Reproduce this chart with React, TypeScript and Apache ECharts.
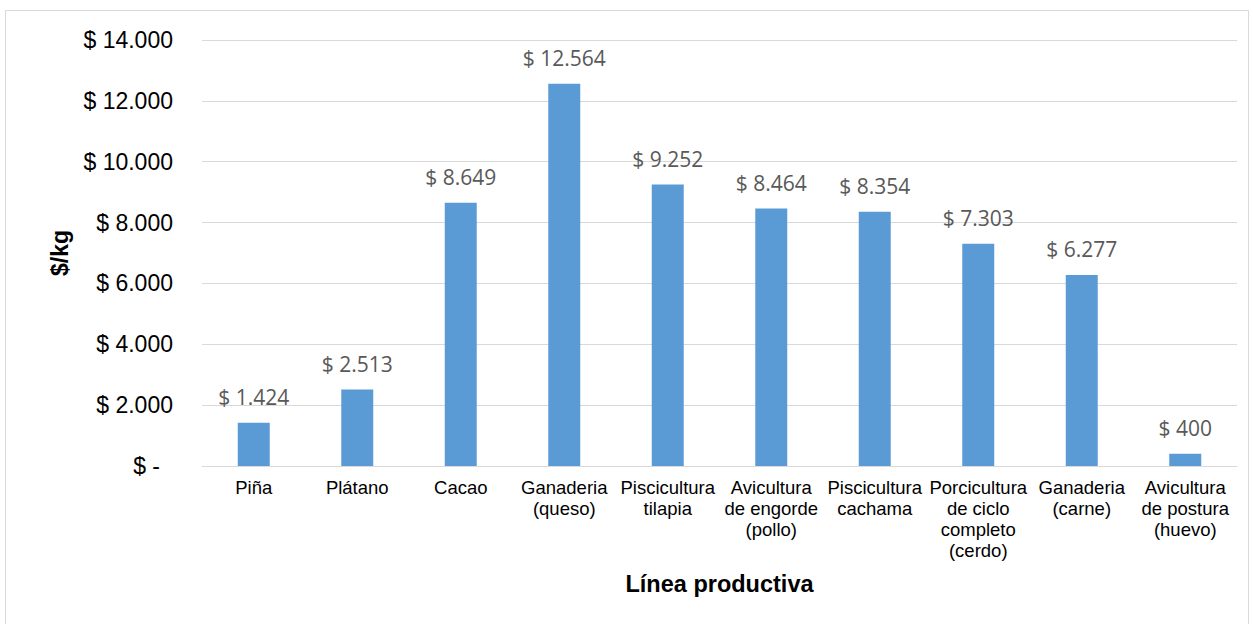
import React, { useEffect, useRef } from "react";
import * as echarts from "echarts";

const categories = [
  "Piña",
  "Plátano",
  "Cacao",
  "Ganaderia\n(queso)",
  "Piscicultura\ntilapia",
  "Avicultura\nde engorde\n(pollo)",
  "Piscicultura\ncachama",
  "Porcicultura\nde ciclo\ncompleto\n(cerdo)",
  "Ganaderia\n(carne)",
  "Avicultura\nde postura\n(huevo)",
];
const values = [1424, 2513, 8649, 12564, 9252, 8464, 8354, 7303, 6277, 400];

const fmt = (v: number) => {
  if (v === 0) return "{z|$ -}";
  return "$ " + Math.round(v).toString().replace(/\B(?=(\d{3})+(?!\d))/g, ".");
};

export default function App() {
  const ref = useRef<HTMLDivElement>(null);
  useEffect(() => {
    if (!ref.current) return;
    const chart = echarts.init(ref.current, undefined, { renderer: "svg" });
    chart.setOption({
      animation: false,
      backgroundColor: "#ffffff",
      graphic: [
        {
          type: "rect",
          shape: { x: 5.5, y: 10.5, width: 1243, height: 625 },
          style: { fill: "none", stroke: "#d9d9d9", lineWidth: 1 },
          silent: true,
        },
      ],
      grid: { left: 202, right: 16, top: 40, bottom: 158, containLabel: false },
      xAxis: {
        type: "category",
        data: categories,
        axisLine: { show: true, lineStyle: { color: "#d9d9d9", width: 1 } },
        axisTick: { show: false },
        axisLabel: {
          interval: 0,
          color: "#000",
          fontFamily: "Liberation Sans, Arial, sans-serif",
          fontSize: 18.5,
          lineHeight: 21,
          margin: 11,
        },
        name: "Línea productiva",
        nameLocation: "middle",
        nameGap: 106,
        nameTextStyle: {
          color: "#000",
          fontFamily: "Liberation Sans, Arial, sans-serif",
          fontSize: 23.5,
          fontWeight: "bold",
          verticalAlign: "top",
        },
      },
      yAxis: {
        type: "value",
        min: 0,
        max: 14000,
        interval: 2000,
        axisLine: { show: false },
        axisTick: { show: false },
        splitLine: { lineStyle: { color: "#d9d9d9", width: 1 } },
        axisLabel: {
          formatter: fmt,
          color: "#000",
          fontFamily: "Liberation Sans, Arial, sans-serif",
          fontSize: 23,
          margin: 29,
          rich: {
            z: {
              color: "#000",
              fontFamily: "Liberation Sans, Arial, sans-serif",
              fontSize: 23,
              padding: [0, 13, 0, 0],
            },
          },
        },
        name: "$/kg",
        nameLocation: "middle",
        nameGap: 142,
        nameRotate: 90,
        nameTextStyle: {
          color: "#000",
          fontFamily: "Liberation Sans, Arial, sans-serif",
          fontSize: 23,
          fontWeight: "bold",
          verticalAlign: "middle",
        },
      },
      series: [
        {
          type: "bar",
          data: values,
          barWidth: 32,
          itemStyle: { color: "#5b9bd5" },
          label: {
            show: true,
            position: "top",
            distance: 15,
            color: "#595959",
            fontFamily: "Open Sans, sans-serif",
            fontSize: 21,
            formatter: (p: any) => fmt(p.value),
          },
        },
      ],
    });
    return () => chart.dispose();
  }, []);
  return (
    <div
      ref={ref}
      style={{ position: "absolute", left: 0, top: 0, width: 1253, height: 624 }}
    />
  );
}
